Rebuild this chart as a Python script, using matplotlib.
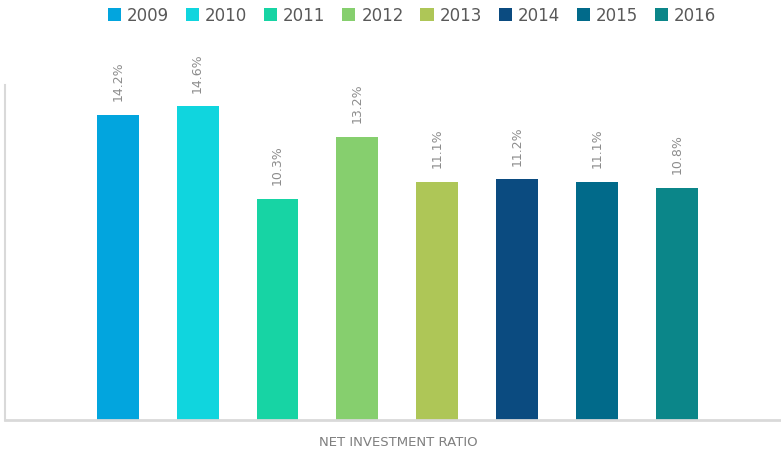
import matplotlib
matplotlib.use("Agg")
from matplotlib import pyplot as plt
from matplotlib.patches import Patch

years = ["2009", "2010", "2011", "2012", "2013", "2014", "2015", "2016"]
ratios = [14.2, 14.6, 10.3, 13.2, 11.1, 11.2, 11.1, 10.8]
colors = ["#02A5DE", "#10D5DE", "#17D4A4", "#86CF6E", "#AEC657",
          "#0B4B80", "#016A8A", "#0B8689"]
category = "NET INVESTMENT RATIO"

fig = plt.figure(figsize=(7.81, 4.60), dpi=100)
ax = fig.add_axes([5 / 781, 39 / 460, 776 / 781, 335 / 460])

positions = list(range(len(years)))
ax.bar(positions, ratios, width=0.525, color=colors, zorder=2)

for x, v in zip(positions, ratios):
    ax.annotate(f"{v:.1f}%", (x, v), xytext=(0, 10.5), textcoords="offset points",
                rotation=90, ha="center", va="bottom", fontsize=9, color="#8C8C8C")

ax.set_xlim(-1.41, 8.3)
ax.set_ylim(0, 15.6)
ax.set_xticks([])
ax.set_yticks([])
for side in ["top", "right"]:
    ax.spines[side].set_visible(False)
ax.spines["left"].set_color("#D9D9D9")
ax.spines["left"].set_linewidth(1.5)
ax.spines["bottom"].set_color("#D9D9D9")
ax.spines["bottom"].set_linewidth(2)

fig.text(398 / 781, 1 - 443 / 460, category, ha="center", va="center",
         fontsize=9.5, color="#7F7F7F")

handles = [Patch(facecolor=c, label=y) for y, c in zip(years, colors)]
fig.legend(handles=handles, loc="center", bbox_to_anchor=(412 / 781, 1 - 16 / 460),
           ncol=len(years), frameon=False, fontsize=12, labelcolor="#595959",
           handlelength=0.8, handleheight=0.8, handletextpad=0.35,
           columnspacing=1.0)

fig.savefig("out.png", dpi=100)
